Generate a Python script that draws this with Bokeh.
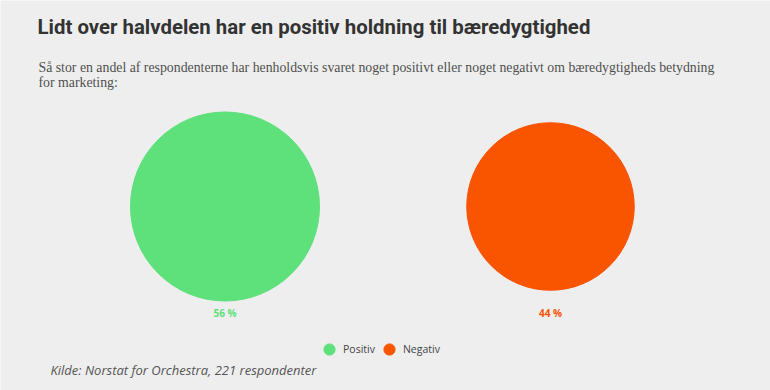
from bokeh.plotting import figure
from bokeh.models import Range1d, Label, Legend, LegendItem, ColumnDataSource
from bokeh.core.properties import value
from bokeh.embed import file_html
from bokeh.resources import INLINE
import numpy as np

categories = ["Positiv", "Negativ"]
values = [56, 44]
colors = ["#5EE07A", "#F95400"]
label_texts = ["56 %", "44 %"]

title = "Lidt over halvdelen har en positiv holdning til bæredygtighed"
subtitle1 = "Så stor en andel af respondenterne har henholdsvis svaret noget positivt eller noget negativt om bæredygtigheds betydning"
subtitle2 = "for marketing:"
source_text = "Kilde: Norstat for Orchestra, 221 respondenter"

W, H = 770, 390
BG = "#EEEEEE"

p = figure(width=W, height=H, output_backend="svg", toolbar_location=None,
           min_border=0, background_fill_color=BG, border_fill_color=BG,
           outline_line_color=None)
p.axis.visible = False
p.grid.visible = False

spacing = 325.5
x0_px = 224.5
p.x_range = Range1d(-x0_px / spacing, (W - x0_px) / spacing)
p.y_range = Range1d(0, H)

idx = np.arange(len(values))
scale = 94.5 / np.sqrt(max(values))
radii = scale * np.sqrt(np.array(values, dtype=float))
cy = H - 206
src = ColumnDataSource(dict(x=idx, y=[cy] * len(values), r=radii, color=colors,
                            lbl=label_texts, cat=categories))
circ = p.circle(x="x", y="y", radius="r", radius_units="screen", color="color", source=src)
p.text(x="x", y="y", text="lbl", text_color="color", y_offset=106,
       text_align="center", text_baseline="middle", text_font_size="10px",
       text_font_style="bold", text_font=value("Open Sans"), source=src)

items = [LegendItem(label=name, renderers=[circ], index=i) for i, name in enumerate(categories)]
legend = Legend(items=items, orientation="horizontal", location=(315, H - 349 - 14),
                background_fill_alpha=0, border_line_color=None,
                label_text_font="Open Sans", label_text_font_size="10.5px",
                label_text_color="#444444", glyph_width=28, glyph_height=28,
                spacing=-12, label_standoff=0, padding=0, margin=0)
p.add_layout(legend, "center")

p.add_layout(Label(x=37, y=H - 26, x_units="screen", y_units="screen", text=title,
                   text_font="Roboto", text_font_style="bold", text_font_size="20.4px",
                   text_color="#333333", text_baseline="middle"))
p.add_layout(Label(x=38, y=H - 67, x_units="screen", y_units="screen", text=subtitle1,
                   text_font="Liberation Serif", text_font_size="13.8px",
                   text_color="#505050", text_baseline="middle"))
p.add_layout(Label(x=38, y=H - 82, x_units="screen", y_units="screen", text=subtitle2,
                   text_font="Liberation Serif", text_font_size="13.8px",
                   text_color="#505050", text_baseline="middle"))
p.add_layout(Label(x=50, y=H - 369, x_units="screen", y_units="screen", text=source_text,
                   text_font="Open Sans", text_font_style="italic", text_font_size="13px",
                   text_color="#555555", text_baseline="middle"))

open("out.html", "w").write(file_html(p, INLINE))
